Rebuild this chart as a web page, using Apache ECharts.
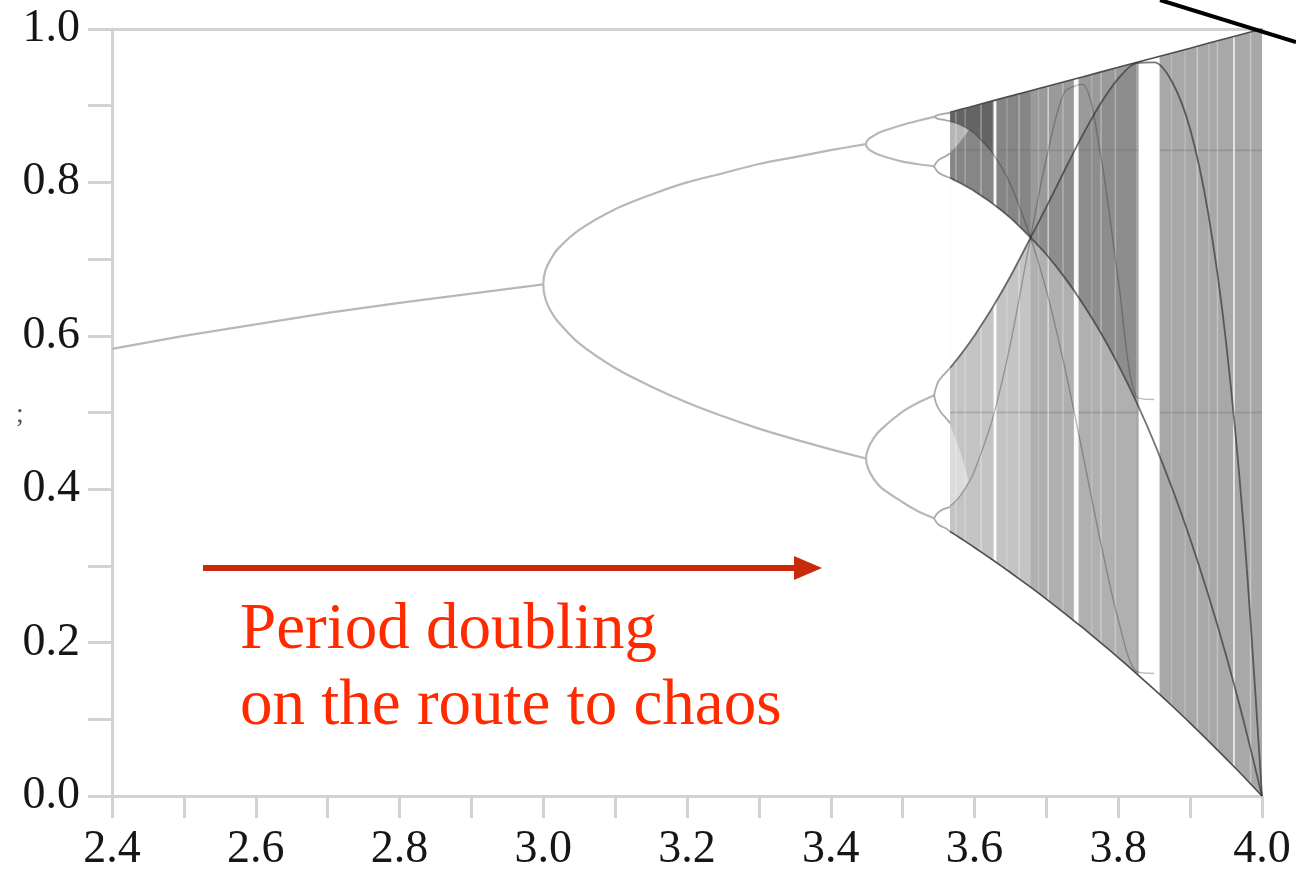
<!DOCTYPE html>
<html>
<head>
<meta charset="utf-8">
<script src="https://cdn.jsdelivr.net/npm/echarts@6/dist/echarts.min.js"></script>
<style>
html,body{margin:0;padding:0;background:#fff;}
#chart{width:1296px;height:874px;}
</style>
</head>
<body>
<div id="chart"></div>
<script>
// ---------- data ----------
// period-1 branch
const p1R = [2.4, 2.5, 2.6, 2.7, 2.8, 2.9, 3.0];
const p1X = [0.583, 0.600, 0.615, 0.630, 0.643, 0.655, 0.667];
// period-2 branches
const p2R  = [3.0, 3.003, 3.01, 3.02, 3.05, 3.1, 3.15, 3.2, 3.25, 3.3, 3.35, 3.4, 3.449];
const p2Up = [0.667, 0.685, 0.699, 0.713, 0.738, 0.765, 0.784, 0.800, 0.812, 0.824, 0.833, 0.842, 0.850];
const p2Lo = [0.667, 0.648, 0.633, 0.619, 0.590, 0.558, 0.534, 0.513, 0.495, 0.479, 0.465, 0.452, 0.440];
// period-4 branches
const p4R   = [3.449, 3.452, 3.46, 3.47, 3.5, 3.52, 3.544];
const p4A   = [0.850, 0.856, 0.861, 0.866, 0.875, 0.880, 0.8855];
const p4B   = [0.850, 0.844, 0.839, 0.835, 0.827, 0.824, 0.821];
const p4C   = [0.440, 0.453, 0.467, 0.478, 0.501, 0.512, 0.5225];
const p4D   = [0.440, 0.427, 0.413, 0.402, 0.383, 0.372, 0.362];
// period-8 branches
const p8R   = [3.544, 3.547, 3.55, 3.555, 3.56, 3.566];
const p8A1  = [0.8855, 0.887, 0.888, 0.889, 0.890, 0.8905];
const p8A2  = [0.8855, 0.884, 0.8825, 0.882, 0.881, 0.880];
const p8B1  = [0.821, 0.826, 0.829, 0.832, 0.834, 0.838];
const p8B2  = [0.821, 0.816, 0.813, 0.810, 0.808, 0.806];
const p8C1  = [0.5225, 0.534, 0.541, 0.547, 0.552, 0.558];
const p8C2  = [0.5225, 0.511, 0.505, 0.498, 0.493, 0.486];
const p8D1  = [0.362, 0.367, 0.370, 0.373, 0.375, 0.377];
const p8D2  = [0.362, 0.357, 0.354, 0.351, 0.349, 0.345];
// chaotic region: envelopes and the dark curves inside it
const cR      = [3.566, 3.57, 3.58, 3.5925, 3.6, 3.625, 3.65, 3.678, 3.7, 3.725, 3.75, 3.775, 3.8, 3.825, 3.85, 3.875, 3.9, 3.925, 3.95, 3.975, 4.0];
const cTop    = [0.8915, 0.8925, 0.895, 0.8981, 0.9, 0.9063, 0.9125, 0.9195, 0.925, 0.9313, 0.9375, 0.9438, 0.95, 0.9563, 0.9625, 0.9688, 0.975, 0.9813, 0.9875, 0.9938, 1.0];
const cBottom = [0.3449, 0.3425, 0.3364, 0.3287, 0.324, 0.308, 0.2914, 0.2722, 0.2567, 0.2385, 0.2197, 0.2004, 0.1805, 0.16, 0.139, 0.1173, 0.0951, 0.0722, 0.0488, 0.0247, 0.0];
const c3      = [0.806, 0.8039, 0.7992, 0.7927, 0.7885, 0.7726, 0.7537, 0.728, 0.706, 0.6765, 0.6429, 0.6049, 0.5621, 0.5141, 0.4608, 0.4012, 0.3355, 0.2629, 0.1834, 0.0957, 0.0];
const c4      = [0.5583, 0.5628, 0.5745, 0.5903, 0.6004, 0.6369, 0.6776, 0.728, 0.768, 0.8152, 0.8609, 0.9022, 0.9353, 0.9555, 0.9566, 0.9309, 0.8695, 0.7606, 0.5916, 0.344, 0.0];
const c5      = [0.8794, 0.8784, 0.8751, 0.8688, 0.8637, 0.8383, 0.7974, 0.728, 0.6593, 0.5612, 0.4491, 0.3331, 0.23, 0.1626, 0.1598, null, null, null, null, null, null];
const c6      = [0.3782, 0.3813, 0.3913, 0.4095, 0.4238, 0.4914, 0.5897, 0.728, 0.8311, 0.9173, 0.9278, 0.8386, 0.673, 0.5208, 0.5169, null, null, null, null, null, null];
// four-band gaps just after onset of chaos
const gR      = [3.566, 3.57, 3.58, 3.5925];
const gUpLo   = [0.8386, 0.8422, 0.8527, 0.8688];
const gUpHi   = [0.8794, 0.8784, 0.8751, 0.8688];
const gLoLo   = [0.3782, 0.3813, 0.3913, 0.4095];
const gLoHi   = [0.4827, 0.4745, 0.4497, 0.4095];
// periodic windows (white stripes) and lighter streaks
const winFrom  = [3.6265, 3.7015, 3.7382, 3.8284, 3.9598, 3.573, 3.608, 3.661, 3.722, 3.775, 3.795, 3.909, 3.937, 3.983, 3.586, 3.644, 3.688, 3.762, 3.873, 3.892, 3.925];
const winTo    = [3.6305, 3.7032, 3.7448, 3.8575, 3.9622, 3.5745, 3.6095, 3.6625, 3.7235, 3.7765, 3.7965, 3.911, 3.9385, 3.9845, 3.5875, 3.645, 3.689, 3.763, 3.874, 3.893, 3.926];
const winAlpha = [0.95, 0.55, 0.95, 1.0, 0.8, 0.3, 0.35, 0.35, 0.3, 0.35, 0.3, 0.4, 0.3, 0.35, 0.25, 0.2, 0.2, 0.2, 0.2, 0.2, 0.2];
// faint horizontal lines across the chaotic region
const hLineY = [0.5, 0.842];
const hLineR = [3.566, 4.0];

// ---------- helpers ----------
const zip = (r, y) => r.map((v, i) => [v, y[i]]);
function loop(r, a, b) {
  const out = [];
  for (let i = r.length - 1; i >= 0; i--) out.push([r[i], a[i]]);
  for (let i = 1; i < r.length; i++) out.push([r[i], b[i]]);
  return out;
}
const sl = (a, i0, i1) => a.slice(i0, i1 + 1);
const PRE0 = 0, PRE1 = 7, POST1 = 13;

const layers = [
  { r: cR, lo: cBottom, hi: cTop, fill: '#a8a8a8' },
  { r: sl(cR, PRE0, PRE1), lo: sl(c3, PRE0, PRE1), hi: sl(cTop, PRE0, PRE1), fill: 'rgba(0,0,0,0.2)' },
  { r: sl(cR, 0, 5), lo: sl(c5, 0, 5), hi: sl(cTop, 0, 5), fill: 'rgba(0,0,0,0.25)' },
  { r: sl(cR, PRE0, PRE1), lo: sl(cBottom, PRE0, PRE1), hi: sl(c4, PRE0, PRE1), fill: 'rgba(255,255,255,0.33)' },
  { r: sl(cR, PRE0, PRE1), lo: sl(c4, PRE0, PRE1), hi: sl(c3, PRE0, PRE1), fill: '#ffffff' },
  { r: gR, lo: gUpLo, hi: gUpHi, fill: 'rgba(255,255,255,0.4)' },
  { r: gR, lo: gLoLo, hi: gLoHi, fill: 'rgba(255,255,255,0.4)' },
  { r: sl(cR, PRE1, POST1), lo: sl(c3, PRE1, POST1), hi: sl(c4, PRE1, POST1), fill: 'rgba(0,0,0,0.16)' },
  { r: sl(cR, PRE1, POST1), lo: sl(c4, PRE1, POST1), hi: sl(cTop, PRE1, POST1), fill: 'rgba(0,0,0,0.08)' },
  { r: sl(cR, PRE1, POST1), lo: sl(cBottom, PRE1, POST1), hi: sl(c3, PRE1, POST1), fill: 'rgba(255,255,255,0.1)' }
];

const AX = '#d2d2d2';
const labelFmt = v => { const k = Math.round(v * 10); return k % 2 === 0 ? (k / 10).toFixed(1) : ''; };
const lineS = (data, color, width, z, smooth) => ({
  type: 'line', data, showSymbol: false, smooth: smooth === undefined ? 0.3 : smooth,
  lineStyle: { color, width }, z, silent: true, animation: false
});
const BR = '#b8b8b8';
const DK = 'rgba(45,45,45,0.65)';
const MD = 'rgba(45,45,45,0.32)';

const series = [
  {
    type: 'custom', z: 1, silent: true, clip: false,
    data: layers.map(L => [L.r[0], L.lo[0]]),
    renderItem: (params, api) => {
      const L = layers[params.dataIndex];
      const pts = [];
      for (let i = 0; i < L.r.length; i++) pts.push(api.coord([L.r[i], L.hi[i]]));
      for (let i = L.r.length - 1; i >= 0; i--) pts.push(api.coord([L.r[i], L.lo[i]]));
      return { type: 'polygon', shape: { points: pts }, style: { fill: L.fill } };
    }
  },
  ...hLineY.map(y => lineS(hLineR.map(r => [r, y]), 'rgba(110,110,110,0.3)', 2, 2, false)),
  {
    type: 'custom', z: 3, silent: true, clip: false,
    data: winFrom.map((v, i) => [v, winTo[i]]),
    renderItem: (params, api) => {
      const a = api.coord([api.value(0), 0.997]);
      const b = api.coord([api.value(1), 0.003]);
      const w = Math.max(b[0] - a[0], 1.5);
      return { type: 'rect', shape: { x: a[0], y: a[1], width: w, height: b[1] - a[1] },
               style: { fill: 'rgba(255,255,255,' + winAlpha[params.dataIndex] + ')' } };
    }
  },
  lineS(zip(cR, cTop), '#4d4d4d', 1.6, 5, false),
  lineS(zip(cR, cBottom), '#4d4d4d', 1.6, 5),
  lineS(zip(cR, c3), DK, 1.8, 5),
  lineS(zip(cR, c4), DK, 1.8, 5),
  lineS(zip(cR, c5), MD, 1.4, 5),
  lineS(zip(cR, c6), MD, 1.4, 5),
  lineS(zip(p1R, p1X), BR, 2.2, 6, false),
  lineS(loop(p2R, p2Up, p2Lo), BR, 2.2, 6),
  lineS(loop(p4R, p4A, p4B), BR, 2.2, 6),
  lineS(loop(p4R, p4C, p4D), BR, 2.2, 6),
  lineS(loop(p8R, p8A1, p8A2), '#aaaaaa', 1.8, 6),
  lineS(loop(p8R, p8B1, p8B2), '#aaaaaa', 1.8, 6),
  lineS(loop(p8R, p8C1, p8C2), '#aaaaaa', 1.8, 6),
  lineS(loop(p8R, p8D1, p8D2), '#aaaaaa', 1.8, 6)
];

const chart = echarts.init(document.getElementById('chart'), null, { renderer: 'canvas' });
chart.setOption({
  animation: false,
  backgroundColor: '#ffffff',
  grid: { left: 112, right: 34, top: 29, bottom: 78 },
  xAxis: [
    {
      type: 'value', min: 2.4, max: 4.0, interval: 0.1,
      axisLine: { show: true, onZero: false, lineStyle: { color: AX, width: 3 } },
      axisTick: { show: true, length: 22, lineStyle: { color: AX, width: 3 } },
      axisLabel: { margin: 31, fontFamily: 'Liberation Serif', fontSize: 46, color: '#161616', formatter: labelFmt },
      splitLine: { show: false }
    },
    {
      type: 'value', position: 'top', min: 2.4, max: 4.0,
      axisLine: { show: true, onZero: false, lineStyle: { color: AX, width: 3 } },
      axisTick: { show: false }, axisLabel: { show: false }, splitLine: { show: false }
    }
  ],
  yAxis: {
    type: 'value', min: 0, max: 1, interval: 0.1,
    axisLine: { show: true, onZero: false, lineStyle: { color: AX, width: 3 } },
    axisTick: { show: true, length: 24, lineStyle: { color: AX, width: 3 } },
    axisLabel: { margin: 32, fontFamily: 'Liberation Serif', fontSize: 46, color: '#161616', formatter: labelFmt },
    splitLine: { show: false }
  },
  series,
  graphic: [
    { type: 'line', z: 100, shape: { x1: 1160, y1: 0, x2: 1296, y2: 42 }, style: { stroke: '#000', lineWidth: 4 } },
    { type: 'line', z: 100, shape: { x1: 203, y1: 568, x2: 800, y2: 568 }, style: { stroke: '#c92a0c', lineWidth: 6 } },
    { type: 'polygon', z: 100, shape: { points: [[794, 556], [822, 568], [794, 580]] }, style: { fill: '#c92a0c' } },
    { type: 'text', z: 100, x: 240, y: 631, style: { text: 'Period doubling', font: '65px "Liberation Serif"', fill: '#ff2a00', verticalAlign: 'middle' } },
    { type: 'text', z: 100, x: 240, y: 707, style: { text: 'on the route to chaos', font: '65px "Liberation Serif"', fill: '#ff2a00', verticalAlign: 'middle' } },
    { type: 'text', z: 100, x: 16, y: 415, style: { text: ';', font: '28px "Liberation Serif"', fill: '#555', verticalAlign: 'middle' } }
  ]
});
</script>
</body>
</html>
